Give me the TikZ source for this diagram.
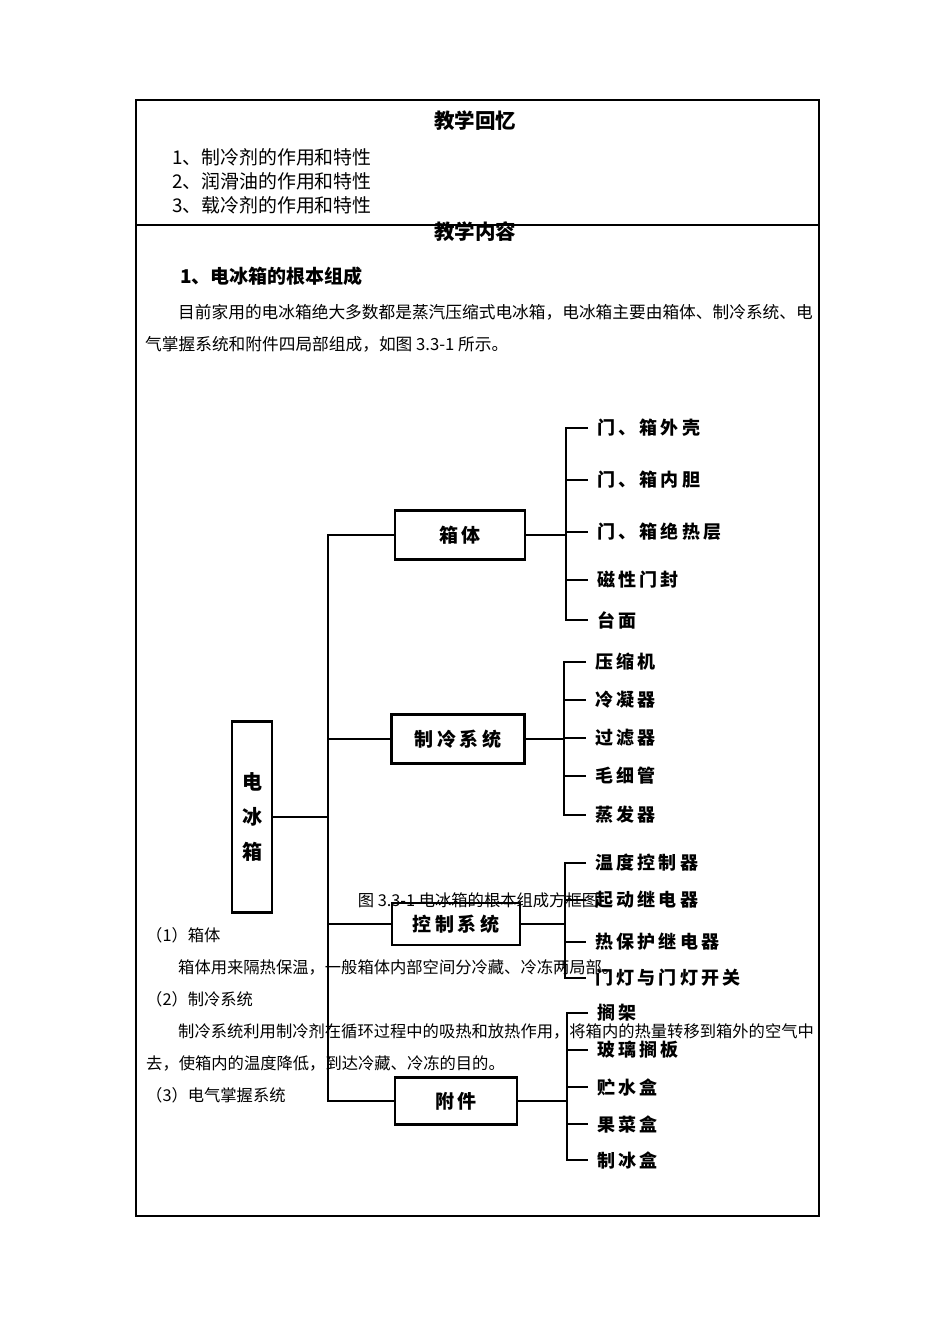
\documentclass[tikz,border=0pt]{standalone}
\usepackage{fontspec}
\setmainfont{Noto Sans CJK SC}
\newfontfamily\spaced[LetterSpace=18]{Noto Sans CJK SC}
\usetikzlibrary{positioning}
\tikzset{
  ttl/.style={font=\fontsize{20.5}{20.5}\selectfont\bfseries},
  body/.style={anchor=west, inner sep=0pt, font=\fontsize{16.3}{16.3}\selectfont},
  blk/.style={draw, line width=2.4pt, inner sep=0pt, font=\spaced\fontsize{19}{19}\selectfont\bfseries},
  leaf/.style={anchor=west, inner sep=0pt, font=\spaced\fontsize{18}{18}\selectfont\bfseries},
  wire/.style={line width=2.4pt},
}
\begin{document}
\begin{tikzpicture}[x=1pt,y=-1pt]
\useasboundingbox[fill=white] (0,0) rectangle (950,1344);
% table
\draw[line width=1.1pt] (136,100) rectangle (819,1216);
\draw[line width=1.1pt] (136,225) -- (819,225);
\node[ttl] (rev) at (475,121) {教学回忆};
\node[body, font=\fontsize{18.9}{18.9}\selectfont] (r1) at (172,157) {1、制冷剂的作用和特性};
\node[body, font=\fontsize{18.9}{18.9}\selectfont] (r2) at (172,181) {2、润滑油的作用和特性};
\node[body, font=\fontsize{18.9}{18.9}\selectfont] (r3) at (172,205) {3、载冷剂的作用和特性};
\node[ttl] (cnt) at (475,232) {教学内容};
\node[body, font=\fontsize{19}{19}\selectfont\bfseries] (sec) at (180,276) {1、电冰箱的根本组成};
\node[body, font=\fontsize{16.7}{16.7}\selectfont] (p1) at (178,312) {目前家用的电冰箱绝大多数都是蒸汽压缩式电冰箱，电冰箱主要由箱体、制冷系统、电};
\node[body, font=\fontsize{16.7}{16.7}\selectfont] (p2) at (145,344) {气掌握系统和附件四局部组成，如图 3.3-1 所示。};

% diagram
\node[blk, minimum width=40pt, minimum height=191pt, align=center,
  font=\fontsize{20}{35}\selectfont\bfseries] (root) at (252,817) {电\\冰\\箱};
\node[blk, minimum width=130pt, minimum height=49pt] (xt) at (460,535) {箱体};
\node[blk, minimum width=133pt, minimum height=49pt] (zl) at (458,739) {制冷系统};
\node[blk, minimum width=128pt, minimum height=42pt] (kz) at (456,924) {控制系统};
\node[blk, minimum width=122pt, minimum height=47pt] (fj) at (456,1101) {附件};

\coordinate (tr) at (328,0);
\draw[wire] (xt.west) -| (tr |- root.east) |- (fj.west);
\draw[wire] (root.east) -- (root.east -| tr);
\draw[wire] (zl.west) -- (zl.west -| tr);
\draw[wire] (kz.west) -- (kz.west -| tr);

% 箱体
\foreach \lbl/\y [count=\i] in {门、箱外壳/428,门、箱内胆/480,门、箱绝热层/532,磁性门封/580,台面/620}
  \node[leaf] (xt\i) at (597,\y) {\lbl};
\coordinate (bxt) at (566,0);
\draw[wire] (xt.east) -- (xt.east -| bxt);
\draw[wire] ([xshift=-9pt]xt1.west) -| (bxt |- xt5.west) -- ([xshift=-9pt]xt5.west);
\foreach \i in {2,3,4} \draw[wire] (bxt |- xt\i.west) -- ([xshift=-9pt]xt\i.west);

% 制冷系统
\foreach \lbl/\y [count=\i] in {压缩机/662,冷凝器/700,过滤器/738,毛细管/776,蒸发器/815}
  \node[leaf] (zl\i) at (595,\y) {\lbl};
\coordinate (bzl) at (564,0);
\draw[wire] (zl.east) -- (zl.east -| bzl);
\draw[wire] ([xshift=-9pt]zl1.west) -| (bzl |- zl5.west) -- ([xshift=-9pt]zl5.west);
\foreach \i in {2,3,4} \draw[wire] (bzl |- zl\i.west) -- ([xshift=-9pt]zl\i.west);

% 控制系统
\foreach \lbl/\y [count=\i] in {温度控制器/863,起动继电器/900,热保护继电器/942,门灯与门灯开关/978}
  \node[leaf] (kz\i) at (595,\y) {\lbl};
\coordinate (bkz) at (565,0);
\draw[wire] (kz.east) -- (kz.east -| bkz);
\draw[wire] ([xshift=-9pt]kz1.west) -| (bkz |- kz4.west) -- ([xshift=-9pt]kz4.west);
\foreach \i in {2,3} \draw[wire] (bkz |- kz\i.west) -- ([xshift=-9pt]kz\i.west);

% 附件
\foreach \lbl/\y [count=\i] in {搁架/1013,玻璃搁板/1050,贮水盒/1087,果菜盒/1124,制冰盒/1160}
  \node[leaf] (fj\i) at (597,\y) {\lbl};
\coordinate (bfj) at (567,0);
\draw[wire] (fj.east) -- (fj.east -| bfj);
\draw[wire] ([xshift=-9pt]fj1.west) -| (bfj |- fj5.west) -- ([xshift=-9pt]fj5.west);
\foreach \i in {2,3,4} \draw[wire] (bfj |- fj\i.west) -- ([xshift=-9pt]fj\i.west);

% text over the figure
\node[font=\fontsize{16.3}{16.3}\selectfont] (cap) at (478,900) {图 3.3-1 电冰箱的根本组成方框图};
\node[body] (b1) at (146,935) {（1）箱体};
\node[body] (b2) at (178,967) {箱体用来隔热保温，一般箱体内部空间分冷藏、冷冻两局部。};
\node[body] (b3) at (146,999) {（2）制冷系统};
\node[body] (b4) at (178,1031) {制冷系统利用制冷剂在循环过程中的吸热和放热作用，将箱内的热量转移到箱外的空气中};
\node[body] (b5) at (146,1063) {去，使箱内的温度降低，到达冷藏、冷冻的目的。};
\node[body] (b6) at (146,1095) {（3）电气掌握系统};
\end{tikzpicture}
\end{document}
